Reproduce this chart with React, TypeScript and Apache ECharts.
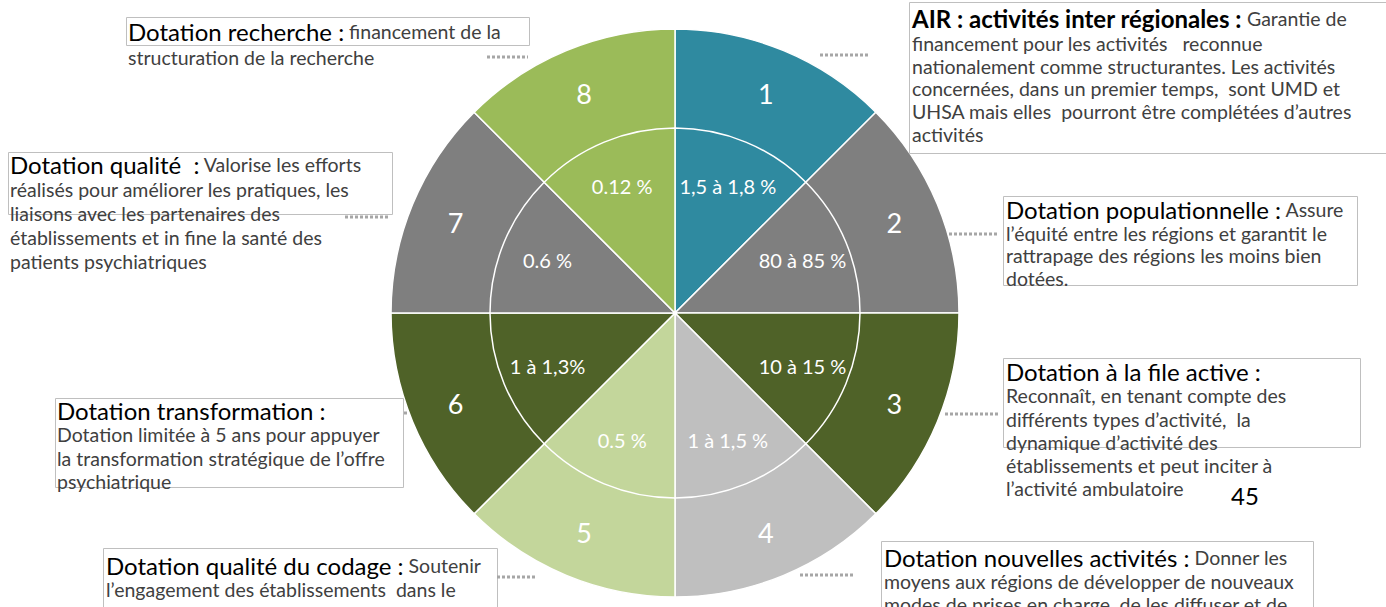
import React, { useEffect, useRef } from "react";
import * as echarts from "echarts";

// ---- data ----
const sectorNumbers = ["1", "2", "3", "4", "5", "6", "7", "8"];
const sectorShares = ["1,5 à 1,8 %", "80 à 85 %", "10 à 15 %", "1 à 1,5 %", "0.5 %", "1 à 1,3%", "0.6 %", "0.12 %"];
const sectorWeights = [1, 1, 1, 1, 1, 1, 1, 1];
const sectorColors = ["#2F8AA0", "#7F7F7F", "#4F6228", "#BFBFBF", "#C3D69B", "#4F6228", "#7F7F7F", "#9BBB59"];

const annotationTitles = [
  "AIR : activités inter régionales :",
  "Dotation populationnelle :",
  "Dotation à la file active :",
  "Dotation nouvelles activités :",
  "Dotation qualité du codage :",
  "Dotation transformation :",
  "Dotation qualité  :",
  "Dotation recherche :",
];
const annotationBodies: string[][] = [
  [" Garantie de", "financement pour les activités   reconnue", "nationalement comme structurantes. Les activités", "concernées, dans un premier temps,  sont UMD et", "UHSA mais elles  pourront être complétées d’autres", "activités"],
  [" Assure", "l’équité entre les régions et garantit le", "rattrapage des régions les moins bien", "dotées."],
  ["", "Reconnaît, en tenant compte des", "différents types d’activité,  la", "dynamique d’activité des", "établissements et peut inciter à", "l’activité ambulatoire"],
  [" Donner les", "moyens aux régions de développer de nouveaux", "modes de prises en charge, de les diffuser et de"],
  [" Soutenir", "l’engagement des établissements  dans le"],
  ["", "Dotation limitée à 5 ans pour appuyer", "la transformation stratégique de l’offre", "psychiatrique"],
  [" Valorise les efforts", "réalisés pour améliorer les pratiques, les", "liaisons avec les partenaires des", "établissements et in fine la santé des", "patients psychiatriques"],
  [" financement de la", "structuration de la recherche"],
];
const pageNumber = "45";

// ---- layout ----
const CX = 675;
const CY = 313;
// the coloured pie lives in its own box, offset so its local centre is (300, 303)
const PIE_LOCAL_X = 300;
const PIE_LOCAL_Y = 303;
const R_OUT = 284;
const R_IN = 185;
const FONT = "Lato, 'Open Sans', sans-serif";

// [textX, textTop, bodyLineHeight, boxX, boxY, boxW, boxH, dotX1, dotX2, dotY]
const annLayout = [
  [912, 6, 22.8, 909, 2, 490, 151, 820, 868, 55],
  [1006, 197, 22.3, 1003, 196, 354, 89, 949, 998, 234],
  [1006, 358, 23.2, 1003, 358, 357, 89, 945, 1000, 414],
  [884, 544, 23, 881, 541, 432, 90, 800, 853, 575],
  [106, 552, 23, 103, 548, 394, 90, 497, 537, 577],
  [57, 397, 23.3, 55, 398, 348, 89, 404, 408, 413],
  [10, 151, 23.8, 8, 152, 384, 62, 345, 388, 217],
  [128, 18, 24, 126, 17, 403, 28, 487, 528, 57],
];

export default function App() {
  const pieRef = useRef<HTMLDivElement>(null);
  const txtRef = useRef<HTMLDivElement>(null);
  useEffect(() => {
    if (!pieRef.current || !txtRef.current) return;
    const pie = echarts.init(pieRef.current, null, { renderer: "svg" });
    const txt = echarts.init(txtRef.current, null, { renderer: "svg" });

    const colored = () =>
      sectorNumbers.map((n, i) => ({ name: n, value: sectorWeights[i], itemStyle: { color: sectorColors[i] } }));
    pie.setOption({
      animation: false,
      series: [
        {
          type: "pie",
          center: [PIE_LOCAL_X, PIE_LOCAL_Y],
          radius: [0, R_OUT],
          data: colored(),
          label: { show: false },
          startAngle: 90,
          itemStyle: { borderColor: "#fff", borderWidth: 1.5 },
        },
        {
          type: "pie",
          center: [PIE_LOCAL_X, PIE_LOCAL_Y],
          radius: [0, R_IN],
          data: colored(),
          label: { show: false },
          startAngle: 90,
          itemStyle: { borderColor: "#fff", borderWidth: 1.5 },
        },
      ],
    });

    const graphics: any[] = [];
    annotationTitles.forEach((title, i) => {
      const [tx, ty, lh, bx, by, bw, bh, d1, d2, dy] = annLayout[i];
      graphics.push({
        type: "rect",
        shape: { x: bx + 0.5, y: by + 0.5, width: bw, height: bh },
        style: { fill: "none", stroke: "#BFBFBF", lineWidth: 1 },
      });
      graphics.push({
        type: "line",
        shape: { x1: d1, y1: dy, x2: d2, y2: dy },
        style: { stroke: "#A6A6A6", lineWidth: 3, lineDash: [3, 2] },
      });
      const body = annotationBodies[i];
      const lines = [`{${i === 0 ? "tb" : "t"}|${title}}` + (body[0] ? `{b|${body[0]}}` : "")];
      for (let k = 1; k < body.length; k++) lines.push(`{b|${body[k]}}`);
      graphics.push({
        type: "text",
        x: tx,
        y: ty,
        style: {
          text: lines.join("\n"),
          align: "left",
          verticalAlign: "top",
          rich: {
            t: { fontSize: 24, fontFamily: FONT, fill: "#000", lineHeight: lh + 3 },
            tb: { fontSize: 24, fontFamily: FONT, fontWeight: "bold", fill: "#000", lineHeight: lh + 3 },
            b: { fontSize: 19.5, fontFamily: FONT, fill: "#404040", lineHeight: lh },
          },
        },
      });
    });
    graphics.push({
      type: "text",
      x: 1245,
      y: 495,
      style: { text: pageNumber, fontSize: 24, fontFamily: FONT, fill: "#000", align: "center", verticalAlign: "middle" },
    });

    txt.setOption({
      animation: false,
      graphic: { elements: graphics },
      series: [
        {
          type: "pie",
          center: [CX, CY],
          startAngle: 90,
          radius: [R_IN, R_OUT],
          itemStyle: { color: "rgba(0,0,0,0)", borderWidth: 0 },
          label: { show: true, position: "inside", formatter: "{b}", color: "#fff", fontSize: 27, fontFamily: FONT },
          data: sectorNumbers.map((n, i) => ({ name: n, value: sectorWeights[i] })),
        },
        {
          type: "pie",
          center: [CX, CY],
          startAngle: 90,
          radius: [85, R_IN],
          itemStyle: { color: "rgba(0,0,0,0)", borderWidth: 0 },
          label: { show: true, position: "inside", formatter: "{b}", color: "#fff", fontSize: 20, fontFamily: FONT },
          data: sectorShares.map((s, i) => ({ name: s, value: sectorWeights[i] })),
        },
      ],
    });
    return () => {
      pie.dispose();
      txt.dispose();
    };
  }, []);
  return (
    <div style={{ position: "absolute", left: 0, top: 0, width: 1386, height: 607, overflow: "hidden", background: "#fff" }}>
      <div
        ref={pieRef}
        style={{ position: "absolute", left: CX - PIE_LOCAL_X, top: CY - PIE_LOCAL_Y, width: 1386, height: 607 }}
      />
      <div ref={txtRef} style={{ position: "absolute", left: 0, top: 0, width: 1386, height: 607, pointerEvents: "none" }} />
    </div>
  );
}
